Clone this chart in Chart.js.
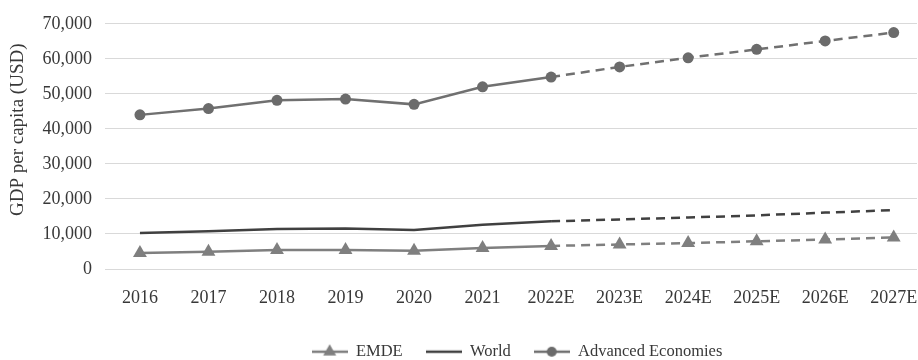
<!DOCTYPE html>
<html>
<head>
<meta charset="utf-8">
<script src="https://cdn.jsdelivr.net/npm/chart.js@4/dist/chart.umd.min.js"></script>
<style>
  html, body { margin: 0; padding: 0; background: #ffffff; }
  #wrap { width: 918px; height: 360px; }
</style>
</head>
<body>
<div id="wrap"><canvas id="chart" width="918" height="360"></canvas></div>
<script>
// Years (E = estimate); solid through 2022E, dashed afterwards
const years = ['2016', '2017', '2018', '2019', '2020', '2021', '2022E',
               '2023E', '2024E', '2025E', '2026E', '2027E'];
const forecastFrom = 6; // index of 2022E, where the projection starts

// GDP per capita, USD
const emde     = [4600, 4900, 5400, 5400, 5200, 6000, 6600, 7000, 7400, 7900, 8400, 9000];
const world    = [10300, 10800, 11400, 11550, 11100, 12600, 13600, 14150, 14700, 15300, 16100, 16800];
const advanced = [44000, 45800, 48150, 48500, 47000, 52000, 54800, 57700, 60300, 62700, 65100, 67500];

const yTicks = [0, 10000, 20000, 30000, 40000, 50000, 60000, 70000];

const FONT = "'Liberation Serif', 'Times New Roman', serif";
const TEXT = '#383838';
const C_EMDE = '#7f7f7f';
const C_WORLD = '#404040';
const C_ADV = '#6b6b6b';
const C_ADV_LINE = '#707070';

const toPoints = arr => arr.map((v, i) => ({ x: i, y: v }));
const dashAfter = ctx => (ctx.p0DataIndex >= forecastFrom ? [9, 6] : undefined);

// legend swatch: short line with the series marker on it
function swatch(color, marker, markerColor) {
  const c = document.createElement('canvas');
  c.width = 36; c.height = 16;
  const g = c.getContext('2d');
  g.strokeStyle = color;
  g.lineWidth = 2.5;
  g.beginPath(); g.moveTo(0, 8); g.lineTo(36, 8); g.stroke();
  g.fillStyle = markerColor || color;
  if (marker === 'triangle') {
    const r = 7.5;
    g.beginPath();
    g.moveTo(18, 8 - r);
    g.lineTo(18 + r * Math.sin(2 * Math.PI / 3), 8 + r / 2);
    g.lineTo(18 - r * Math.sin(2 * Math.PI / 3), 8 + r / 2);
    g.closePath(); g.fill();
  } else if (marker === 'circle') {
    g.beginPath(); g.arc(18, 8, 5, 0, Math.PI * 2); g.fill();
  }
  return c;
}
const swatches = [
  swatch(C_EMDE, 'triangle'),
  swatch(C_WORLD, null),
  swatch(C_ADV_LINE, 'circle', C_ADV)
];

// the legend row sits a little right of the page centre
const legendShift = {
  id: 'legendShift',
  afterLayout(chart) {
    if (chart.legend) chart.legend.left += 110;
  }
};

new Chart(document.getElementById('chart'), {
  type: 'line',
  data: {
    datasets: [
      {
        label: 'EMDE',
        data: toPoints(emde),
        borderColor: C_EMDE,
        backgroundColor: C_EMDE,
        borderWidth: 2.5,
        pointStyle: 'triangle',
        pointRadius: 8,
        pointBorderWidth: 0,
        pointBackgroundColor: C_EMDE,
        segment: { borderDash: dashAfter }
      },
      {
        label: 'World',
        data: toPoints(world),
        borderColor: C_WORLD,
        backgroundColor: C_WORLD,
        borderWidth: 2.5,
        pointRadius: 0,
        segment: { borderDash: dashAfter }
      },
      {
        label: 'Advanced Economies',
        data: toPoints(advanced),
        borderColor: C_ADV_LINE,
        backgroundColor: C_ADV,
        borderWidth: 2.5,
        pointStyle: 'circle',
        pointRadius: 5.5,
        pointBorderWidth: 0,
        pointBackgroundColor: C_ADV,
        segment: { borderDash: dashAfter }
      }
    ]
  },
  plugins: [legendShift],
  options: {
    responsive: false,
    animation: false,
    events: [],
    layout: { autoPadding: false, padding: { left: 7, right: 1, top: 11, bottom: -10 } },
    scales: {
      x: {
        type: 'linear',
        min: -0.51,
        max: 11.34,
        afterBuildTicks: s => { s.ticks = years.map((_, i) => ({ value: i })); },
        afterFit: s => { s.height = 51.5; s.paddingLeft = 0; s.paddingRight = 0; },
        grid: { display: false, drawTicks: false },
        border: { display: false },
        ticks: {
          autoSkip: false,
          maxRotation: 0,
          padding: 18,
          color: TEXT,
          font: { family: FONT, size: 18 },
          callback: v => years[v]
        }
      },
      y: {
        min: 0,
        max: 70000,
        afterBuildTicks: s => { s.ticks = yTicks.map(v => ({ value: v })); },
        afterFit: s => { s.width = 98; },
        grid: { color: '#d9d9d9', lineWidth: 1, drawTicks: false },
        border: { display: false },
        ticks: {
          padding: 13,
          color: TEXT,
          font: { family: FONT, size: 18 },
          callback: v => v.toLocaleString('en-US')
        },
        title: {
          display: true,
          // leading spaces lift the rotated title a little above the axis middle
          text: '       GDP per capita (USD)',
          color: TEXT,
          font: { family: FONT, size: 19 },
          padding: { top: 0, bottom: 0 }
        }
      }
    },
    plugins: {
      tooltip: { enabled: false },
      legend: {
        position: 'bottom',
        labels: {
          usePointStyle: true,
          pointStyleWidth: 36,
          padding: 23,
          color: TEXT,
          font: { family: FONT, size: 16.5 },
          generateLabels: chart => chart.data.datasets.map((ds, i) => ({
            text: ds.label,
            pointStyle: swatches[i],
            fillStyle: ds.borderColor,
            strokeStyle: ds.borderColor,
            lineWidth: 0,
            fontColor: TEXT,
            datasetIndex: i,
            hidden: false
          }))
        }
      }
    }
  }
});
</script>
</body>
</html>
